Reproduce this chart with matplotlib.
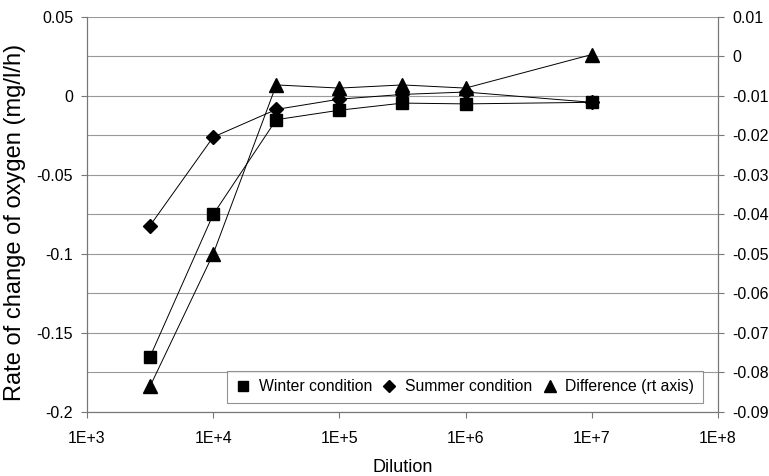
import matplotlib
matplotlib.use("Agg")
import matplotlib.pyplot as plt
from matplotlib.ticker import FixedLocator, FuncFormatter
import numpy as np

plt.rcParams['font.family'] = ['Liberation Sans', 'DejaVu Sans']

dilution = [3162, 1e4, 31623, 1e5, 316228, 1e6, 1e7]
winter = [-0.165, -0.075, -0.015, -0.009, -0.0045, -0.005, -0.004]
summer = [-0.082, -0.026, -0.0085, -0.002, 0.001, 0.0025, -0.004]
difference = [-0.0835, -0.050, -0.0072, -0.008, -0.0072, -0.008, 0.0005]

left_ticks = [0.05, 0, -0.05, -0.1, -0.15, -0.2]
right_ticks = [0.01, 0, -0.01, -0.02, -0.03, -0.04, -0.05, -0.06, -0.07, -0.08, -0.09]
x_ticks = [1e3, 1e4, 1e5, 1e6, 1e7, 1e8]
x_labels = ['1E+3', '1E+4', '1E+5', '1E+6', '1E+7', '1E+8']

fig = plt.figure(figsize=(7.69, 4.76), dpi=100)
ax = fig.add_axes([0.1131, 0.1345, 0.8206, 0.8298])
ax2 = ax.twinx()

ax.set_xscale('log')
ax.set_xlim(1e3, 1e8)
ax.set_ylim(-0.2, 0.05)
ax2.set_ylim(-0.09, 0.01)

grid_color = '#999999'
for g in np.arange(-0.2, 0.0501, 0.025):
    ax.axhline(g, color=grid_color, lw=0.8, zorder=0)

ax.yaxis.set_major_locator(FixedLocator(left_ticks))
ax.yaxis.set_major_formatter(FuncFormatter(lambda v, p: f"{v:g}"))
ax2.yaxis.set_major_locator(FixedLocator(right_ticks))
ax2.yaxis.set_major_formatter(FuncFormatter(lambda v, p: f"{v:g}"))
ax.xaxis.set_major_locator(FixedLocator(x_ticks))
ax.set_xticklabels(x_labels)
ax.xaxis.set_minor_locator(FixedLocator([]))

for a in (ax, ax2):
    for s in a.spines.values():
        s.set_color('#777777')
        s.set_linewidth(0.8)
    a.spines['top'].set_visible(False)
    a.tick_params(axis='both', colors='#777777', labelcolor='black', labelsize=11.5, length=4, width=0.8)
ax.tick_params(axis='y', pad=6)
ax2.tick_params(axis='y', pad=6)
ax.tick_params(axis='x', pad=10)

lw = 0.7
h1, = ax.plot(dilution, winter, color='black', lw=lw, marker='s', ms=9, label='Winter condition', zorder=3)
h2, = ax.plot(dilution, summer, color='black', lw=lw, marker='D', ms=7.5, label='Summer condition', zorder=3)
h3, = ax2.plot(dilution, difference, color='black', lw=lw, marker='^', ms=10, label='Difference (rt axis)', zorder=4)

ax.set_ylabel('Rate of change of oxygen (mg/l/h)', fontsize=17)
ax.yaxis.set_label_coords(-0.097, 0.48)
ax.set_xlabel('Dilution', fontsize=13, labelpad=9)

leg = ax2.legend(handles=[h1, h2, h3], loc='lower right', bbox_to_anchor=(0.976, 0.023), ncol=3,
                 frameon=True, fancybox=False, fontsize=11.3, handlelength=1.0, handletextpad=0.5,
                 columnspacing=0.6, borderpad=0.55, markerscale=0.85, borderaxespad=0)
leg.get_frame().set_edgecolor('#777777')
leg.get_frame().set_linewidth(0.8)
for line in leg.get_lines():
    line.set_linestyle('none')

fig.savefig('out.png', dpi=100)
